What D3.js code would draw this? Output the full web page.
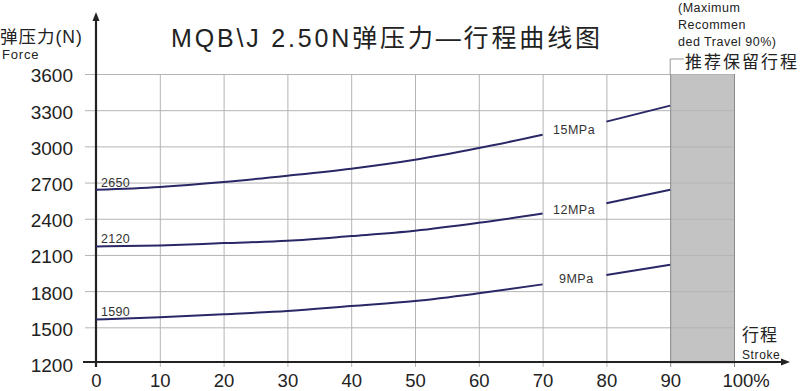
<!DOCTYPE html>
<html>
<head>
<meta charset="utf-8">
<script src="https://cdn.jsdelivr.net/npm/d3@7"></script>
<style>
  body { margin: 0; background: #fff; }
  svg { display: block; font-family: "Liberation Sans", Arial, "Noto Sans CJK SC", sans-serif; }
</style>
</head>
<body>
<div id="chart"></div>
<script>
// stroke positions (%) and force readings (N) per pressure
const strokes = [0, 10, 20, 30, 40, 50, 60, 70, 80, 90];
const force15 = [2640, 2664, 2705, 2757, 2815, 2889, 2986, 3096, 3205, 3338];
const force12 = [2170, 2179, 2198, 2217, 2256, 2300, 2366, 2443, 2528, 2641];
const force9 = [1565, 1584, 1608, 1636, 1677, 1718, 1782, 1856, 1933, 2019];
const seriesNames = ["15MPa", "12MPa", "9MPa"];
const startLabels = ["2650", "2120", "1590"];
const yTicks = [1200, 1500, 1800, 2100, 2400, 2700, 3000, 3300, 3600];
const xTicks = [0, 10, 20, 30, 40, 50, 60, 70, 80, 90, 100];

const width = 800, height = 391;
const latinCjk = '"Liberation Sans", Arial, "Noto Sans CJK SC", sans-serif';
const cjk = '"Noto Sans CJK SC", "Liberation Sans", sans-serif';

const svg = d3.select("#chart").append("svg")
    .attr("width", width)
    .attr("height", height);

const x = d3.scaleLinear().domain([0, 100]).range([96, 734]);
const y = d3.scaleLinear().domain([1200, 3600]).range([363.5, 74]);

// reserved travel zone 90-100%
svg.append("rect")
    .attr("x", x(90)).attr("y", y(3600))
    .attr("width", x(100) - x(90)).attr("height", y(1200) - y(3600))
    .attr("fill", "#c3c3c3");

// grid lines
const gridH = svg.append("g").attr("transform", `translate(${x(100)},0)`)
    .call(d3.axisLeft(y).tickValues(yTicks.slice(1)).tickSize(x(100) - 85).tickFormat(""));
gridH.select(".domain").remove();
gridH.selectAll("line").attr("stroke", "#b4b4b4").attr("stroke-width", 1);

const gridV = svg.append("g").attr("transform", `translate(0,${y(3600)})`)
    .call(d3.axisBottom(x).tickValues(xTicks.slice(1)).tickSize(367 - y(3600)).tickFormat(""));
gridV.select(".domain").remove();
gridV.selectAll("line").attr("stroke", "#b4b4b4").attr("stroke-width", 1);
gridV.selectAll(".tick").filter(d => d >= 90).select("line").attr("stroke", "#8a8a8a");

// bracket above the reserved zone
svg.append("path")
    .attr("d", `M${x(90)},${y(3600)} V59 H684`)
    .attr("fill", "none").attr("stroke", "#999").attr("stroke-width", 1);

// axes
svg.append("line")
    .attr("x1", 83).attr("x2", 784).attr("y1", 362).attr("y2", 362)
    .attr("stroke", "#222").attr("stroke-width", 2.2);
svg.append("path").attr("d", "M790,362 L781,358.5 L781,365.5 Z").attr("fill", "#222");
svg.append("line")
    .attr("x1", 96).attr("x2", 96).attr("y1", 367).attr("y2", 18)
    .attr("stroke", "#222").attr("stroke-width", 2.2);
svg.append("path").attr("d", "M96,12 L92.5,21 L99.5,21 Z").attr("fill", "#222");

// tick labels
const yAxis = svg.append("g").attr("transform", "translate(96,0)")
    .call(d3.axisLeft(y).tickValues(yTicks).tickSize(0).tickPadding(23).tickFormat(d3.format("d")));
yAxis.select(".domain").remove();
yAxis.selectAll("text").attr("font-size", 19).attr("fill", "#222")
    .attr("font-family", "Liberation Sans, Arial, sans-serif").attr("dy", "0.42em");

const xAxis = svg.append("g").attr("transform", "translate(0,362)")
    .call(d3.axisBottom(x).tickValues(xTicks).tickSize(0).tickPadding(12)
        .tickFormat(d => d === 100 ? "100%" : d));
xAxis.select(".domain").remove();
xAxis.selectAll("text").attr("font-size", 18.5).attr("fill", "#222")
    .attr("font-family", "Liberation Sans, Arial, sans-serif");
xAxis.selectAll(".tick").filter(d => d === 100).select("text")
    .attr("text-anchor", "start").attr("x", -12);

// curves, broken between 70% and 80% for the labels
const line = d3.line()
    .x(d => x(d[0]))
    .y(d => y(d[1]))
    .curve(d3.curveMonotoneX);

const allSeries = [force15, force12, force9];
const labelY = [134, 214, 283];
const labelX = [553, 553, 559];

allSeries.forEach((vals, i) => {
    const pts = strokes.map((s, j) => [s, vals[j]]);
    svg.append("path")
        .attr("d", line(pts.slice(0, 8)))
        .attr("fill", "none").attr("stroke", "#2a2766").attr("stroke-width", 2);
    svg.append("path")
        .attr("d", line(pts.slice(8)))
        .attr("fill", "none").attr("stroke", "#2a2766").attr("stroke-width", 2);

    svg.append("text")
        .attr("x", labelX[i]).attr("y", labelY[i])
        .attr("font-size", 12.5).attr("fill", "#333").attr("letter-spacing", 0.5)
        .text(seriesNames[i]);

    svg.append("text")
        .attr("x", 101).attr("y", y(vals[0]) - 3)
        .attr("font-size", 12.5).attr("fill", "#333").attr("letter-spacing", 0.3)
        .text(startLabels[i]);
});

// title
svg.append("text")
    .attr("x", 171).attr("y", 47)
    .attr("font-size", 25).attr("fill", "#222")
    .attr("font-family", latinCjk)
    .attr("textLength", 429).attr("lengthAdjust", "spacing")
    .text("MQB\\J 2.50N弹压力—行程曲线图");

// axis captions
svg.append("text").attr("x", 0).attr("y", 43)
    .attr("font-size", 17.5).attr("fill", "#222").attr("font-family", latinCjk)
    .attr("letter-spacing", 1)
    .text("弹压力(N)");
svg.append("text").attr("x", 2).attr("y", 59)
    .attr("font-size", 13).attr("fill", "#222").attr("letter-spacing", 0.8)
    .text("Force");
svg.append("text").attr("x", 742).attr("y", 341)
    .attr("font-size", 17).attr("fill", "#222").attr("font-family", cjk)
    .attr("letter-spacing", 1)
    .text("行程");
svg.append("text").attr("x", 742).attr("y", 359)
    .attr("font-size", 12).attr("fill", "#222").attr("letter-spacing", 0.6)
    .text("Stroke");

// reserved travel caption
svg.append("text").attr("x", 685).attr("y", 68)
    .attr("font-size", 17).attr("fill", "#222").attr("font-family", cjk)
    .attr("letter-spacing", 2)
    .text("推荐保留行程");
["(Maximum", "Recommen", "ded Travel 90%)"].forEach((s, i) => {
    svg.append("text").attr("x", 678).attr("y", 12 + i * 17)
        .attr("font-size", 12.5).attr("fill", "#222").attr("letter-spacing", 0.5)
        .text(s);
});
</script>
</body>
</html>
